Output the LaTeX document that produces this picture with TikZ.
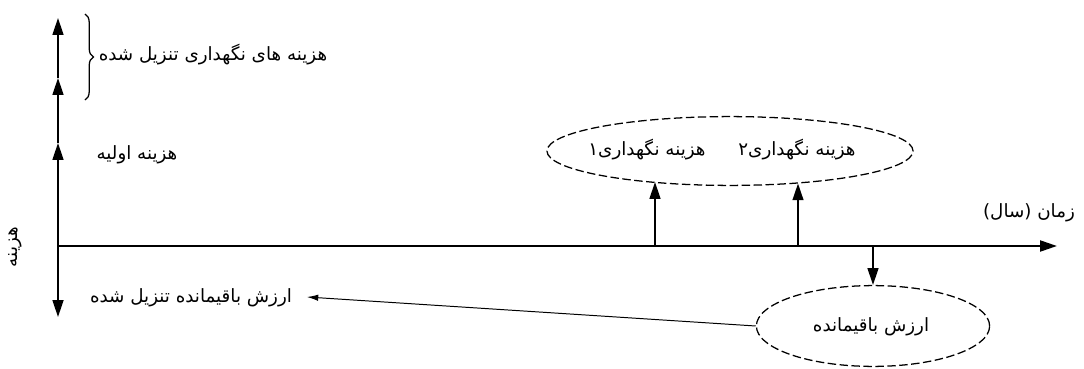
\documentclass[tikz,border=0pt]{standalone}
\usepackage{fontspec}
\newfontfamily\arabicfont[Script=Arabic]{DejaVu Sans}
\TeXXeTstate=1
\usetikzlibrary{arrows.meta,positioning,shapes.geometric,decorations.pathreplacing}
\tikzset{
  axisline/.style={line width=1.4pt,-{Triangle[length=4.2mm,width=2.7mm]}},
  costarrow/.style={axisline},
  dashell/.style={draw,ellipse,inner sep=0pt,line width=0.9pt,dash pattern=on 6pt off 2.5pt},
  lbl/.style={font=\fontsize{13}{15}\selectfont\arabicfont,inner sep=1pt},
  leader/.style={line width=0.7pt,-{Latex[length=2.8mm,width=1.6mm]}},
}

\begin{document}
\begin{tikzpicture}[x=0.025cm,y=-0.025cm]
  \useasboundingbox (0,0) rectangle (1084,368);
  % axes
  \coordinate (O) at (58,246);
  \coordinate (c1) at (58,143);
  \coordinate (c2) at (58,78);
  \coordinate (c3) at (58,18);
  \coordinate (vbot) at (58,317);
  \coordinate (hend) at (1057,246);
  \draw[axisline] (O) -- (vbot);
  \draw[axisline,line width=1.7pt] (O) -- (hend);
  \draw[axisline] (O) -- (c1);
  \draw[axisline] (c1) -- (c2);
  \draw[axisline] (c2) -- (c3);

  \node[lbl,rotate=90] (ylab) at (15,247) {\beginR هزینه\endR};
  \node[lbl] (xlab) at (1029,213) {\beginR زمان (سال)\endR};
  \node[lbl] (init) at (137,155) {\beginR هزینه اولیه\endR};

  % discounted maintenance costs
  \coordinate (btop) at (85,14);
  \coordinate (bbot) at (85,100);
  \draw[line width=0.9pt,decorate,decoration={brace,amplitude=6pt}] (btop) -- (bbot);
  \node[lbl] (disc) at (213,55) {\beginR هزینه های نگهداری تنزیل شده\endR};

  % maintenance
  \node[dashell,minimum width=9.15cm,minimum height=1.72cm] (maint) at (730,151) {};
  \node[lbl] (m1) at (647,150) {\beginR هزینه نگهداری۱\endR};
  \node[lbl] (m2) at (797,150) {\beginR هزینه نگهداری۲\endR};
  \coordinate (p1) at (655,246);
  \coordinate (p2) at (798,246);
  \draw[costarrow] (p1) -- (p1 |- maint.200);
  \draw[costarrow] (p2) -- (p2 |- maint.335);

  % salvage value
  \node[dashell,minimum width=5.83cm,minimum height=2.02cm] (resid) at (873,326) {};
  \node[lbl] (rtxt) at (871,327) {\beginR ارزش باقیمانده\endR};
  \coordinate (p3) at (873,246);
  \draw[costarrow] (p3) -- (resid.north);
  \node[lbl] (rdisc) at (191,298) {\beginR ارزش باقیمانده تنزیل شده\endR};
  \coordinate (lead) at (307,297);
  \draw[leader] (resid.west) -- (lead);
\end{tikzpicture}
\end{document}
